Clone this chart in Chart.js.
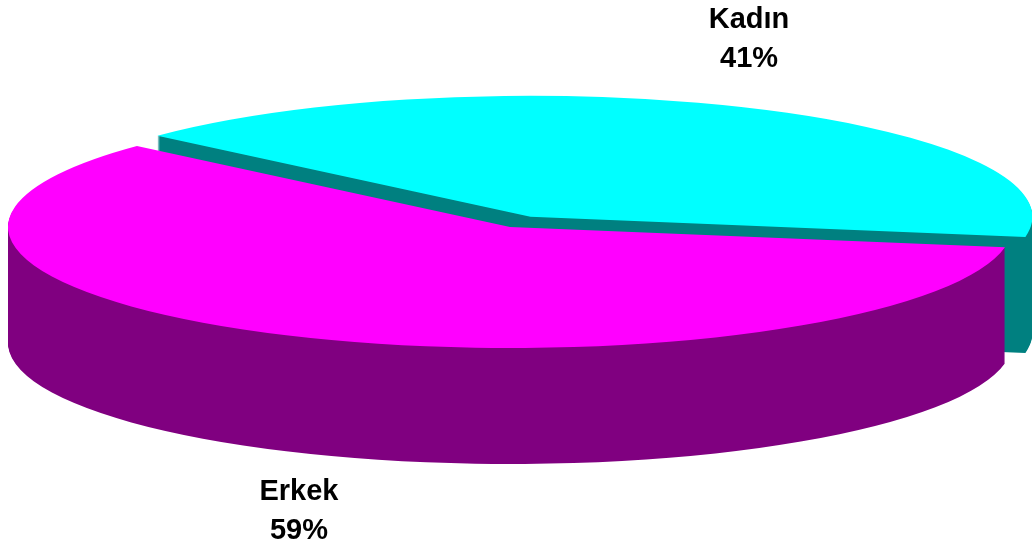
<!DOCTYPE html>
<html>
<head>
<meta charset="utf-8">
<script src="https://cdn.jsdelivr.net/npm/chart.js@4/dist/chart.umd.min.js"></script>
<style>
html, body { margin: 0; padding: 0; background: #fff; }
#wrap { width: 1032px; height: 553px; }
</style>
</head>
<body>
<div id="wrap"><canvas id="pieChart" width="1032" height="553"></canvas></div>
<script>
const labels = ['Kadın', 'Erkek'];
const shares = [41, 59];
const topColors = ['#00FFFF', '#FF00FF'];
const sideColors = ['#008080', '#800080'];
const explode = [16, 0];

// flattening of the pie (ry / rx); the wall depth is whatever is left of the chart area
const TILT = 0.241;
const LABEL_GAP = 71;

let geom = null;

function slicePath(ctx, s, dy) {
    ctx.save();
    ctx.translate(s.vx, s.vy + dy);
    ctx.scale(geom.sx, geom.sy);
    ctx.beginPath();
    ctx.moveTo(0, 0);
    ctx.arc(0, 0, s.arc.outerRadius, s.arc.startAngle, s.arc.endAngle);
    ctx.closePath();
    ctx.restore();
}

const pie3d = {
    id: 'pie3d',
    beforeDatasetsDraw(chart) {
        const ctx = chart.ctx;
        const area = chart.chartArea;
        const meta = chart.getDatasetMeta(0);
        const rx = area.width / 2;
        const ry = rx * TILT;
        const r0 = meta.data[0].outerRadius;
        geom = {
            cx: (area.left + area.right) / 2,
            cy: area.top + ry,
            rx: rx,
            ry: ry,
            depth: area.height - 2 * ry,
            sx: rx / r0,
            sy: ry / r0
        };

        const slices = meta.data.map((arc, i) => {
            const mid = (arc.startAngle + arc.endAngle) / 2;
            const off = arc.options.offset || 0;
            return {
                arc: arc,
                i: i,
                mid: mid,
                vx: geom.cx + Math.cos(mid) * off * geom.sx,
                vy: geom.cy + Math.sin(mid) * off * geom.sy
            };
        });
        geom.slices = slices;

        // back slices first
        const order = slices.slice().sort((a, b) => Math.sin(a.mid) - Math.sin(b.mid));
        order.forEach(s => {
            ctx.fillStyle = sideColors[s.i];
            for (let d = Math.round(geom.depth); d >= 1; d--) {
                slicePath(ctx, s, d);
                ctx.fill();
            }
            ctx.fillStyle = topColors[s.i];
            slicePath(ctx, s, 0);
            ctx.fill();
        });
        return false;
    },
    afterDraw(chart) {
        if (!geom) return;
        const ctx = chart.ctx;
        ctx.save();
        ctx.fillStyle = '#000';
        ctx.font = 'bold 29px "Liberation Sans", Arial, sans-serif';
        ctx.textAlign = 'center';
        ctx.textBaseline = 'middle';
        geom.slices.forEach(s => {
            const c = Math.cos(s.mid), n = Math.sin(s.mid);
            const x = geom.cx + c * geom.rx * 1.03 + 14;
            let y = s.vy + n * (geom.ry + LABEL_GAP);
            if (n > 0) y += geom.depth;
            ctx.fillText(labels[s.i], x, y - 24);
            ctx.fillText(shares[s.i] + '%', x, y + 15);
        });
        ctx.restore();
    }
};

const ctx = document.getElementById('pieChart').getContext('2d');
const chart = new Chart(ctx, {
    type: 'pie',
    data: {
        labels: labels,
        datasets: [{
            data: shares,
            backgroundColor: topColors,
            offset: explode,
            borderWidth: 0
        }]
    },
    options: {
        responsive: false,
        animation: false,
        events: [],
        rotation: -48,
        layout: {
            padding: { left: 8, right: 20, top: 106, bottom: 89 }
        },
        plugins: {
            legend: { display: false },
            tooltip: { enabled: false }
        }
    },
    plugins: [pie3d]
});
</script>
</body>
</html>
